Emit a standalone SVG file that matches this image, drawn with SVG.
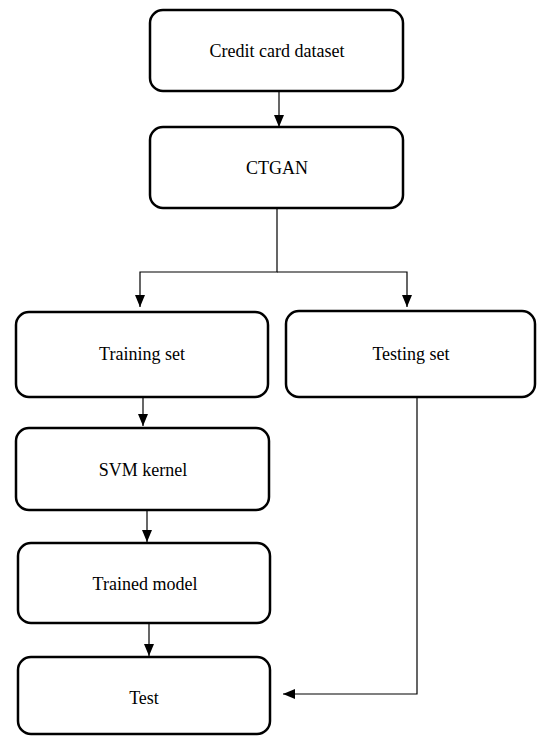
<svg xmlns="http://www.w3.org/2000/svg" width="537" height="736" viewBox="0 0 537 736">
<style>
.box{fill:#fff;stroke:#000;stroke-width:2.5}
.lbl{font-family:"Liberation Serif","Times New Roman",serif;font-size:18px;fill:#000;text-anchor:middle}
.con{fill:none;stroke:#000;stroke-width:1.2}
</style>
<defs>
<marker id="ah" markerWidth="12" markerHeight="10" refX="12" refY="5" orient="auto" markerUnits="userSpaceOnUse">
<path d="M0,0 L12,5 L0,10 Z" fill="#000"/>
</marker>
</defs>
<rect width="537" height="736" fill="#fff"/>
<g id="connectors">
<line class="con" x1="279" y1="91" x2="279" y2="127" marker-end="url(#ah)"/>
<polyline class="con" points="277,208 277,272 140,272 140,307" marker-end="url(#ah)"/>
<polyline class="con" points="277,272 407,272 407,307" marker-end="url(#ah)"/>
<line class="con" x1="143" y1="397" x2="143" y2="426" marker-end="url(#ah)"/>
<line class="con" x1="147" y1="510" x2="147" y2="542" marker-end="url(#ah)"/>
<line class="con" x1="149" y1="623" x2="149" y2="656" marker-end="url(#ah)"/>
<polyline class="con" points="417,397 417,694 283,694" marker-end="url(#ah)"/>
</g>
<g id="node-credit">
<rect class="box" x="150" y="10" width="253" height="81" rx="13"/>
<text class="lbl" x="277" y="57">Credit card dataset</text>
</g>
<g id="node-ctgan">
<rect class="box" x="150" y="127" width="253" height="81" rx="13"/>
<text class="lbl" x="277" y="174">CTGAN</text>
</g>
<g id="node-training">
<rect class="box" x="16" y="312" width="252" height="85" rx="13"/>
<text class="lbl" x="142" y="360">Training set</text>
</g>
<g id="node-testing">
<rect class="box" x="286" y="311" width="249" height="86" rx="13"/>
<text class="lbl" x="411" y="360">Testing set</text>
</g>
<g id="node-svm">
<rect class="box" x="16" y="428" width="253" height="82" rx="13"/>
<text class="lbl" x="143" y="476">SVM kernel</text>
</g>
<g id="node-trained">
<rect class="box" x="18" y="543" width="252" height="80" rx="13"/>
<text class="lbl" x="145" y="590">Trained model</text>
</g>
<g id="node-test">
<rect class="box" x="18" y="657" width="252" height="77" rx="13"/>
<text class="lbl" x="144" y="704">Test</text>
</g>
</svg>
